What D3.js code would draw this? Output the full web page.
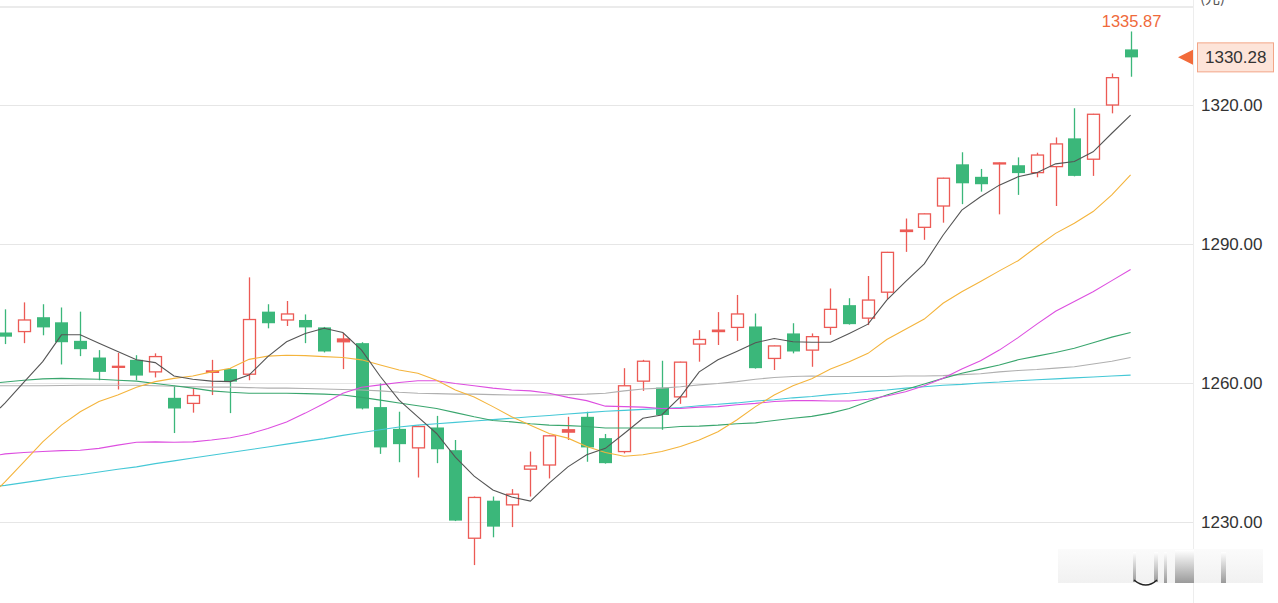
<!DOCTYPE html>
<html>
<head>
<meta charset="utf-8">
<script src="https://cdn.jsdelivr.net/npm/d3@7"></script>
<style>
  html, body { margin: 0; padding: 0; background: #fff; }
  svg { display: block; }
</style>
</head>
<body>
<svg id="chart" width="1278" height="603"></svg>
<script>
// ---------- DATA ----------
const openV  = [1270.9,1271.1,1274.2,1273.1,1269.1,1265.5,1263.4,1265.0,1262.4,1256.8,1255.6,1262.3,1263.0,1261.9,1275.4,1273.6,1273.6,1272.0,1268.9,1268.6,1254.8,1250.1,1246.0,1250.4,1245.5,1226.5,1234.6,1233.7,1241.4,1242.3,1249.4,1252.7,1248.1,1245.2,1260.4,1259.0,1257.0,1268.4,1271.1,1272.0,1272.2,1265.3,1270.7,1267.1,1272.0,1276.8,1274.0,1279.6,1292.7,1293.6,1298.2,1307.2,1304.5,1307.3,1307.0,1305.4,1306.7,1312.8,1308.3,1320.0,1332.0];
const highV  = [1275.9,1277.4,1277.0,1276.3,1275.4,1267.1,1266.5,1266.0,1266.4,1259.4,1258.9,1265.0,1263.2,1282.8,1277.0,1277.7,1274.8,1272.1,1270.8,1268.8,1259.9,1253.8,1250.8,1252.9,1247.7,1235.5,1235.5,1237.1,1245.2,1248.8,1252.7,1253.8,1249.0,1263.2,1265.0,1264.8,1264.6,1271.4,1275.3,1279.0,1275.0,1268.1,1272.9,1270.7,1280.4,1278.3,1283.1,1288.3,1295.5,1296.6,1304.3,1309.8,1306.2,1307.6,1308.7,1309.7,1313.0,1319.3,1318.1,1326.8,1335.87];
const lowV   = [1268.4,1268.6,1270.3,1264.0,1265.8,1260.6,1258.6,1260.6,1261.2,1249.2,1253.6,1257.4,1253.5,1260.6,1271.8,1272.3,1268.6,1266.6,1263.0,1254.3,1244.7,1242.9,1239.6,1242.7,1230.2,1220.7,1226.7,1228.9,1235.5,1239.4,1247.7,1243.0,1242.6,1244.8,1258.3,1249.9,1255.5,1264.6,1268.2,1269.1,1263.1,1262.8,1266.4,1263.5,1270.4,1272.6,1272.5,1278.1,1288.3,1290.9,1294.6,1298.6,1301.3,1296.4,1300.6,1304.4,1298.2,1304.6,1304.7,1318.2,1326.1];
const closeV = [1270.0,1273.6,1272.0,1268.8,1267.3,1262.4,1263.6,1261.6,1265.7,1254.5,1257.3,1262.6,1260.3,1273.7,1272.9,1274.9,1272.0,1266.8,1269.5,1254.5,1246.1,1246.8,1250.6,1245.7,1230.3,1235.3,1229.0,1236.0,1242.1,1248.6,1249.9,1246.1,1242.7,1259.4,1264.7,1253.1,1264.5,1269.4,1271.4,1274.9,1263.2,1268.0,1266.8,1270.0,1275.9,1272.7,1277.9,1288.2,1293.0,1296.5,1304.2,1303.1,1302.9,1307.5,1305.3,1309.2,1311.6,1304.7,1318.0,1325.9,1330.28];

const ma5   = [1255.7,1260.2,1264.6,1270.4,1270.4,1268.6,1266.8,1265.0,1264.4,1261.5,1260.8,1260.4,1260.3,1261.7,1265.7,1268.9,1270.7,1271.8,1270.9,1267.1,1261.4,1256.3,1252.7,1249.1,1244.0,1239.9,1236.9,1235.4,1234.5,1238.4,1241.9,1244.5,1245.9,1249.1,1252.4,1253.1,1257.0,1262.4,1265.0,1266.8,1268.7,1269.6,1268.9,1268.8,1268.8,1270.7,1272.7,1277.9,1281.9,1285.7,1291.9,1297.3,1300.2,1302.7,1304.5,1305.4,1307.3,1307.8,1309.9,1313.9,1317.8];
const ma10  = [1238.7,1243.0,1247.3,1250.9,1253.8,1256.0,1257.4,1259.1,1260.3,1261.0,1261.5,1262.4,1263.2,1265.1,1265.8,1266.0,1265.9,1265.7,1265.5,1265.0,1263.9,1262.8,1262.1,1260.6,1258.5,1257.0,1254.9,1252.7,1250.9,1249.1,1248.1,1246.3,1245.0,1244.2,1244.5,1245.2,1246.3,1247.7,1249.5,1252.0,1254.9,1257.4,1259.4,1260.9,1263.0,1264.6,1266.4,1269.4,1271.6,1273.8,1277.2,1279.7,1281.9,1284.2,1286.4,1289.4,1292.3,1294.5,1297.0,1300.6,1304.9];
const ma20  = [1244.7,1245.0,1245.2,1245.4,1245.5,1245.9,1246.6,1247.2,1247.3,1247.2,1247.3,1247.7,1248.2,1249.0,1250.2,1251.6,1253.5,1255.6,1257.8,1259.1,1259.6,1260.1,1260.5,1260.5,1259.9,1259.4,1258.9,1258.5,1258.3,1257.8,1256.9,1256.2,1255.0,1254.9,1254.8,1254.5,1254.5,1254.8,1254.9,1255.3,1255.6,1256.0,1256.2,1256.2,1256.1,1256.1,1256.5,1257.2,1258.1,1259.4,1261.0,1263.0,1264.8,1267.1,1269.8,1272.7,1275.5,1277.6,1279.7,1282.1,1284.5];
const ma30  = [1260.2,1260.6,1260.9,1261.0,1260.9,1260.8,1260.6,1260.4,1259.9,1259.4,1258.9,1258.3,1258.0,1257.8,1257.8,1257.8,1257.7,1257.6,1257.4,1256.9,1256.3,1255.7,1255.1,1254.5,1253.6,1252.7,1251.9,1251.6,1251.2,1250.9,1250.8,1250.6,1250.3,1250.3,1250.3,1250.3,1250.6,1250.7,1250.9,1251.2,1251.4,1251.9,1252.4,1252.8,1253.5,1254.5,1256.0,1257.4,1258.6,1259.8,1261.0,1262.1,1263.0,1263.9,1265.0,1265.8,1266.6,1267.5,1268.7,1269.9,1270.9];
const ma60  = [1259.4,1259.4,1259.4,1259.45,1259.5,1259.5,1259.5,1259.5,1259.4,1259.3,1259.2,1259.1,1259.1,1259.0,1258.9,1258.9,1258.8,1258.7,1258.6,1258.5,1258.3,1258.0,1257.8,1257.7,1257.6,1257.6,1257.5,1257.4,1257.4,1257.4,1257.5,1257.6,1257.8,1258.3,1258.7,1258.9,1259.2,1259.6,1259.9,1260.3,1260.8,1261.2,1261.4,1261.5,1261.4,1261.4,1261.4,1261.4,1261.5,1261.5,1261.6,1261.8,1262.0,1262.4,1262.7,1262.9,1263.2,1263.5,1264.1,1264.7,1265.5];
const ma120 = [1237.9,1238.5,1239.1,1239.7,1240.2,1240.8,1241.4,1241.9,1242.6,1243.2,1243.8,1244.4,1245.0,1245.6,1246.2,1246.8,1247.4,1248.0,1248.7,1249.3,1249.9,1250.5,1250.9,1251.2,1251.5,1251.8,1252.1,1252.4,1252.7,1253.0,1253.3,1253.6,1253.9,1254.1,1254.3,1254.5,1254.7,1255.1,1255.4,1255.7,1256.1,1256.4,1256.8,1257.1,1257.5,1257.8,1258.2,1258.5,1258.9,1259.2,1259.5,1259.7,1260.0,1260.2,1260.5,1260.7,1260.9,1261.1,1261.3,1261.5,1261.7];
// MA values where each line enters the plot at its left edge
const maLeftEdge = { ma5: 1254.6, ma10: 1237.6, ma20: 1244.5, ma30: 1260.1, ma60: 1259.4, ma120: 1237.8 };

const yTicks = [1230, 1260, 1290, 1320];
const lastPrice = 1330.28;
const highPrice = 1335.87;
const unitLabel = "(元)";

// ---------- LAYOUT ----------
const W = 1278, H = 603;
const plotRight = 1193;
const svg = d3.select("#chart");

const x = d3.scaleLinear().domain([0, openV.length - 1]).range([5.2, 1130.6]);
const y = d3.scaleLinear().domain([1230, 1320]).range([522, 105]);

const C_UP = "#ec5a55", C_DOWN = "#3bb77a";

const defs = svg.append("defs");
defs.append("clipPath").attr("id", "plotClip")
  .append("rect").attr("x", 0).attr("y", 0).attr("width", plotRight).attr("height", H);

// top border and separator
svg.append("line").attr("x1", 0).attr("x2", plotRight).attr("y1", 7).attr("y2", 7)
  .attr("stroke", "#ebebeb").attr("stroke-width", 2);
svg.append("line").attr("x1", plotRight + 0.5).attr("x2", plotRight + 0.5).attr("y1", 0).attr("y2", H)
  .attr("stroke", "#ededed").attr("stroke-width", 1);

// grid
svg.append("g").selectAll("line").data(yTicks).join("line")
  .attr("x1", 0).attr("x2", plotRight)
  .attr("y1", d => Math.round(y(d)) + 0.5).attr("y2", d => Math.round(y(d)) + 0.5)
  .attr("stroke", "#e6e6e6").attr("stroke-width", 1);

// axis labels
const axis = d3.axisRight(y).tickValues(yTicks).tickFormat(d3.format(".2f")).tickSize(0).tickPadding(0);
const gAxis = svg.append("g").attr("transform", `translate(${1201},0)`).call(axis);
gAxis.select(".domain").remove();
gAxis.selectAll("text").attr("font-family", "Liberation Sans, Arial, sans-serif")
  .attr("font-size", 17).attr("fill", "#333").attr("x", 0).attr("dy", "0.35em");

// unit label (partly above the top edge, as in the source)
svg.append("text").attr("x", 1200).attr("y", 3).text(unitLabel)
  .attr("font-family", "Noto Sans CJK SC, sans-serif").attr("font-size", 15).attr("fill", "#555");

const plot = svg.append("g").attr("clip-path", "url(#plotClip)");

// candles
const idx = openV.map((_, i) => i);
const bw = 12;
const cg = plot.append("g");
idx.forEach(i => {
  const o = openV[i], c = closeV[i], h = highV[i], l = lowV[i];
  const up = c >= o;
  const col = up ? C_UP : C_DOWN;
  const cx = Math.round(x(i)) + 0.5;
  const yTop = y(Math.max(o, c)), yBot = y(Math.min(o, c));
  const bh = Math.max(1, yBot - yTop);
  if (up) {
    cg.append("line").attr("x1", cx).attr("x2", cx).attr("y1", y(h)).attr("y2", yTop)
      .attr("stroke", col).attr("stroke-width", 1.3);
    cg.append("line").attr("x1", cx).attr("x2", cx).attr("y1", yTop + bh).attr("y2", y(l))
      .attr("stroke", col).attr("stroke-width", 1.3);
    cg.append("rect").attr("x", cx - bw / 2).attr("y", yTop).attr("width", bw).attr("height", bh)
      .attr("fill", bh < 3 ? col : "none").attr("stroke", col).attr("stroke-width", 1.3);
  } else {
    cg.append("line").attr("x1", cx).attr("x2", cx).attr("y1", y(h)).attr("y2", y(l))
      .attr("stroke", col).attr("stroke-width", 1.3);
    cg.append("rect").attr("x", cx - bw / 2 - 0.5).attr("y", yTop).attr("width", bw + 1).attr("height", Math.max(2, bh))
      .attr("fill", col);
  }
});

// moving averages
const edgeIndex = x.invert(0);
const maSeries = [
  { key: "ma120", data: ma120, color: "#45c8d6" },
  { key: "ma60",  data: ma60,  color: "#b0b0b0" },
  { key: "ma30",  data: ma30,  color: "#3aa66e" },
  { key: "ma20",  data: ma20,  color: "#dd4fe0" },
  { key: "ma10",  data: ma10,  color: "#f4b43c" },
  { key: "ma5",   data: ma5,   color: "#555555" }
];
const lineGen = d3.line().x(d => x(d[0])).y(d => y(d[1]));
plot.append("g").selectAll("path").data(maSeries).join("path")
  .attr("d", s => lineGen([[edgeIndex, maLeftEdge[s.key]]].concat(s.data.map((v, i) => [i, v]))))
  .attr("fill", "none").attr("stroke", s => s.color).attr("stroke-width", 1.1);

// high label
svg.append("text").attr("x", x(highV.length - 1) + 1).attr("y", 27).attr("text-anchor", "middle")
  .attr("font-family", "Liberation Sans, Arial, sans-serif").attr("font-size", 16.5)
  .attr("fill", "#ef6a3a").text(d3.format(".2f")(highPrice));

// last price marker
const yl = y(lastPrice);
svg.append("path").attr("d", `M1178,${yl} L1193,${yl - 7.5} L1193,${yl + 7.5} Z`).attr("fill", "#f26b3a");
svg.append("rect").attr("x", 1197.5).attr("y", yl - 14.5).attr("width", 76).attr("height", 29)
  .attr("fill", "#fde4d9").attr("stroke", "#f3a587").attr("stroke-width", 1);
svg.append("text").attr("x", 1205).attr("y", yl).attr("dy", "0.35em")
  .attr("font-family", "Liberation Sans, Arial, sans-serif").attr("font-size", 17)
  .attr("fill", "#333").text(d3.format(".2f")(lastPrice));

// faint blurred watermark (decorative)
const grad = defs.append("linearGradient").attr("id", "wmg").attr("x1", 0).attr("x2", 0).attr("y1", 0).attr("y2", 1);
grad.append("stop").attr("offset", "0%").attr("stop-color", "#ffffff");
grad.append("stop").attr("offset", "100%").attr("stop-color", "#9a9a9a");
const grad2 = defs.append("linearGradient").attr("id", "wmg2").attr("x1", 0).attr("x2", 0).attr("y1", 0).attr("y2", 1);
grad2.append("stop").attr("offset", "0%").attr("stop-color", "#fbfbfb");
grad2.append("stop").attr("offset", "100%").attr("stop-color", "#f1f1f1");
const wm = svg.append("g");
wm.append("rect").attr("x", 1058).attr("y", 549).attr("width", 205).attr("height", 34).attr("fill", "url(#wmg2)");
wm.append("rect").attr("x", 1133).attr("y", 552).attr("width", 3).attr("height", 30).attr("fill", "url(#wmg)");
wm.append("rect").attr("x", 1154).attr("y", 552).attr("width", 4).attr("height", 30).attr("fill", "url(#wmg)");
wm.append("path").attr("d", "M1134,580 Q1146,590 1157,580").attr("fill", "none").attr("stroke", "#222").attr("stroke-width", 1.5);
wm.append("rect").attr("x", 1164).attr("y", 552).attr("width", 3).attr("height", 31).attr("fill", "url(#wmg)");
wm.append("rect").attr("x", 1175).attr("y", 550).attr("width", 19).attr("height", 33).attr("fill", "url(#wmg)");
wm.append("rect").attr("x", 1221).attr("y", 552).attr("width", 5).attr("height", 31).attr("fill", "url(#wmg)");
</script>
</body>
</html>
